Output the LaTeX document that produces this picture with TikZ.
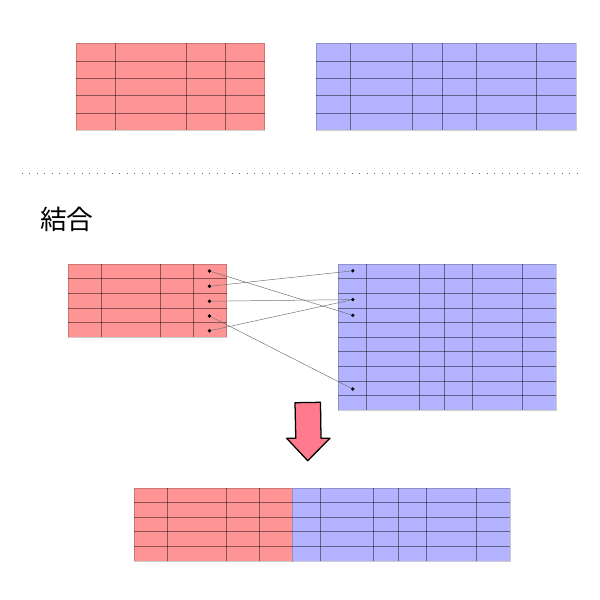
\documentclass[tikz,border=0pt]{standalone}
\usepackage{fontspec}
\usepackage{tikz}
\usetikzlibrary{positioning}
\newfontfamily\cjk{Noto Sans CJK JP}
\definecolor{leftfill}{HTML}{FF9494}
\definecolor{rightfill}{HTML}{B3B3FF}
\definecolor{arrowfill}{HTML}{FF7A8C}

% one table: fill, left, right, top, bottom, inner column x's, inner row y's
\newcommand{\gridtable}[7]{%
  \fill[#1] (#2,#4) rectangle (#3,#5);
  \foreach \cx in {#6} \draw[gridline] (\cx,#4) -- (\cx,#5);
  \foreach \ry in {#7} \draw[gridline] (#2,\ry) -- (#3,\ry);
  \draw[frameline] (#2,#4) rectangle (#3,#5);
}

\begin{document}
\begin{tikzpicture}[x=0.025cm,y=-0.025cm,
  gridline/.style={draw=black,draw opacity=0.45,line width=0.6pt},
  frameline/.style={draw=black,draw opacity=0.2,line width=0.6pt},
  keydot/.style={circle,fill=black,inner sep=0pt,minimum size=2.6pt},
  link/.style={draw=black!55,line width=0.35pt},
  sep/.style={draw=black!60,line width=0.7pt,dash pattern=on 0.6pt off 4.73pt},
  bigarrow/.style={draw=black,line width=0.9pt,fill=arrowfill,line join=round}]
  \useasboundingbox (0,0) rectangle (600,600);

  % before
  \gridtable{leftfill}{76}{264.7}{43.3}{130.3}{115.3,186.3,225.7}{61.3,78.7,95.7,113.3}
  \gridtable{rightfill}{316}{576}{43.3}{130.3}{350.7,412.7,442.7,476.7,536.7}{61.3,78.7,95.7,113.3}

  \coordinate (sepl) at (22,173.5);
  \coordinate (sepr) at (578,173.5);
  \draw[sep] (sepl) -- (sepr);

  \node[font=\cjk\fontsize{19}{19}\selectfont] (title) at (66.8,219) {結合};

  % join keys
  \gridtable{leftfill}{68.3}{226.7}{264}{337.3}{101.3,160.7,193.7}{278.7,293.7,308.7,322.3}
  \gridtable{rightfill}{338}{556}{264}{410.3}{366.3,419.3,444.7,472.7,522.3}{278.3,293.7,308.3,322.7,337.3,351.7,366.7,381.3,395.3}

  \foreach \i/\yy in {1/271,2/286.3,3/301.2,4/316,5/330.8}
    \node[keydot] (l\i) at (209.5,\yy) {};
  \foreach \j/\yy in {1/270.8,3/299.6,4/315.3,9/389}
    \node[keydot] (r\j) at (352.8,\yy) {};

  \draw[link] (l1) -- (r4);
  \draw[link] (l2) -- (r1);
  \draw[link] (l3) -- (r3);
  \draw[link] (l4) -- (r9);
  \draw[link] (l5) -- (r3);

  \draw[bigarrow] (295,402.7) -- (320.5,402.3) -- (321,438.3) -- (330,438.3)
    -- (307.7,460.7) -- (286.7,438.3) -- (295.8,438.3) -- cycle;

  % result
  \gridtable{leftfill}{134.3}{292.3}{488}{561}{167.3,226.3,259.7}{502.3,517.3,531.7,546.3}
  \gridtable{rightfill}{292.3}{510}{488}{561}{320.3,373.3,398.3,426.3,476.7}{502.3,517.3,531.7,546.3}
\end{tikzpicture}
\end{document}
